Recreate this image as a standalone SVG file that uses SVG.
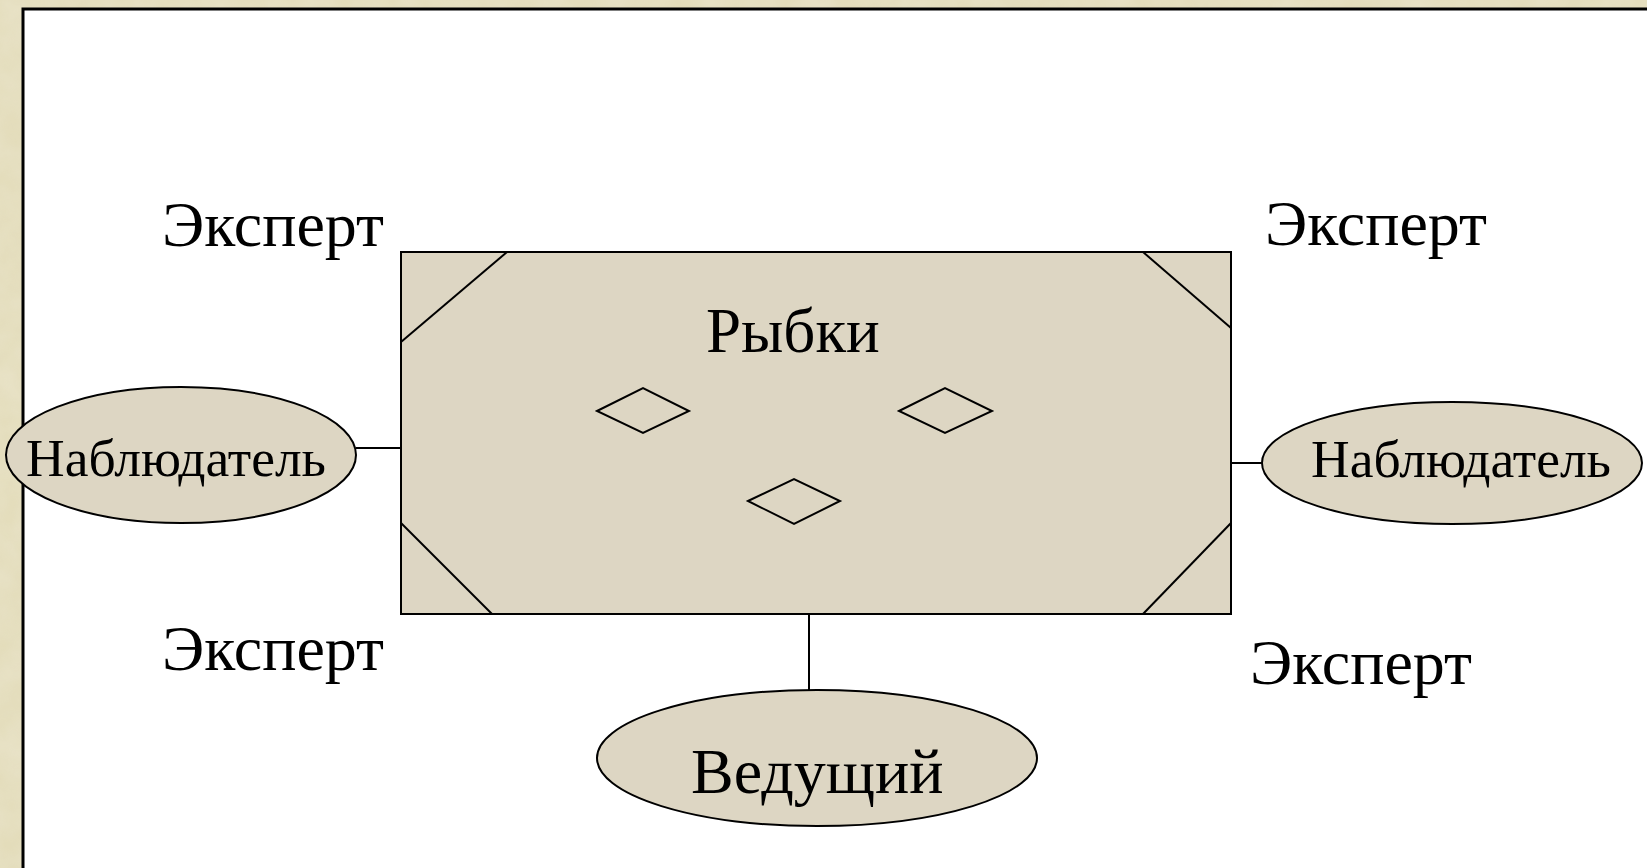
<svg xmlns="http://www.w3.org/2000/svg" width="1647" height="868" viewBox="0 0 1647 868">
<defs>
<style>
.t{font-family:"Liberation Serif","Times New Roman",serif;fill:#000}
.shape{fill:#ddd6c3;stroke:#000;stroke-width:2}
.ln{stroke:#000;stroke-width:2;fill:none}
.dm{fill:none;stroke:#000;stroke-width:2}
</style>
<filter id="parch" x="0" y="0" width="100%" height="100%">
<feTurbulence type="fractalNoise" baseFrequency="0.03" numOctaves="3" seed="4" result="n"/>
<feColorMatrix in="n" type="matrix" values="0 0 0 0 0.84  0 0 0 0 0.80  0 0 0 0 0.64  0 0 0 -1.2 1.0" result="c"/>
<feComposite in="c" in2="SourceGraphic" operator="in"/>
</filter>
</defs>
<rect x="0" y="0" width="1647" height="868" fill="#e3dcba"/>
<rect x="0" y="0" width="1647" height="868" fill="#e3dcba" filter="url(#parch)" opacity="0.6"/>
<rect x="23" y="9" width="1640" height="880" fill="#fff" stroke="#000" stroke-width="3"/>
<g id="connectors">
<line class="ln" x1="356" y1="448" x2="401" y2="448"/>
<line class="ln" x1="1231" y1="463" x2="1262" y2="463"/>
<line class="ln" x1="809" y1="614" x2="809" y2="690"/>
</g>
<g id="fishbowl">
<rect class="shape" x="401" y="252" width="830" height="362"/>
<line class="ln" x1="401" y1="342" x2="507" y2="252"/>
<line class="ln" x1="1143" y1="252" x2="1231" y2="328"/>
<line class="ln" x1="401" y1="523" x2="492" y2="614"/>
<line class="ln" x1="1143" y1="614" x2="1231" y2="523"/>
<text class="t" x="706" y="352" font-size="63">Рыбки</text>
<polygon class="dm" points="597,411 643,388 689,411 643,433"/>
<polygon class="dm" points="899,411 945,388 992,411 945,433"/>
<polygon class="dm" points="748,501 794,479 840,501 794,524"/>
</g>
<g id="observer-left">
<ellipse class="shape" cx="181" cy="455" rx="175" ry="68"/>
<text class="t" x="26" y="476" font-size="53.5">Наблюдатель</text>
</g>
<g id="observer-right">
<ellipse class="shape" cx="1452" cy="463" rx="190" ry="61"/>
<text class="t" x="1311" y="477" font-size="53.5">Наблюдатель</text>
</g>
<g id="leader">
<ellipse class="shape" cx="817" cy="758" rx="220" ry="68"/>
<text class="t" x="691" y="793" font-size="64">Ведущий</text>
</g>
<g id="expert-tl"><text class="t" x="162" y="246" font-size="64">Эксперт</text></g>
<g id="expert-tr"><text class="t" x="1265" y="245" font-size="64">Эксперт</text></g>
<g id="expert-bl"><text class="t" x="162" y="670" font-size="64">Эксперт</text></g>
<g id="expert-br"><text class="t" x="1250" y="684" font-size="64">Эксперт</text></g>
</svg>
